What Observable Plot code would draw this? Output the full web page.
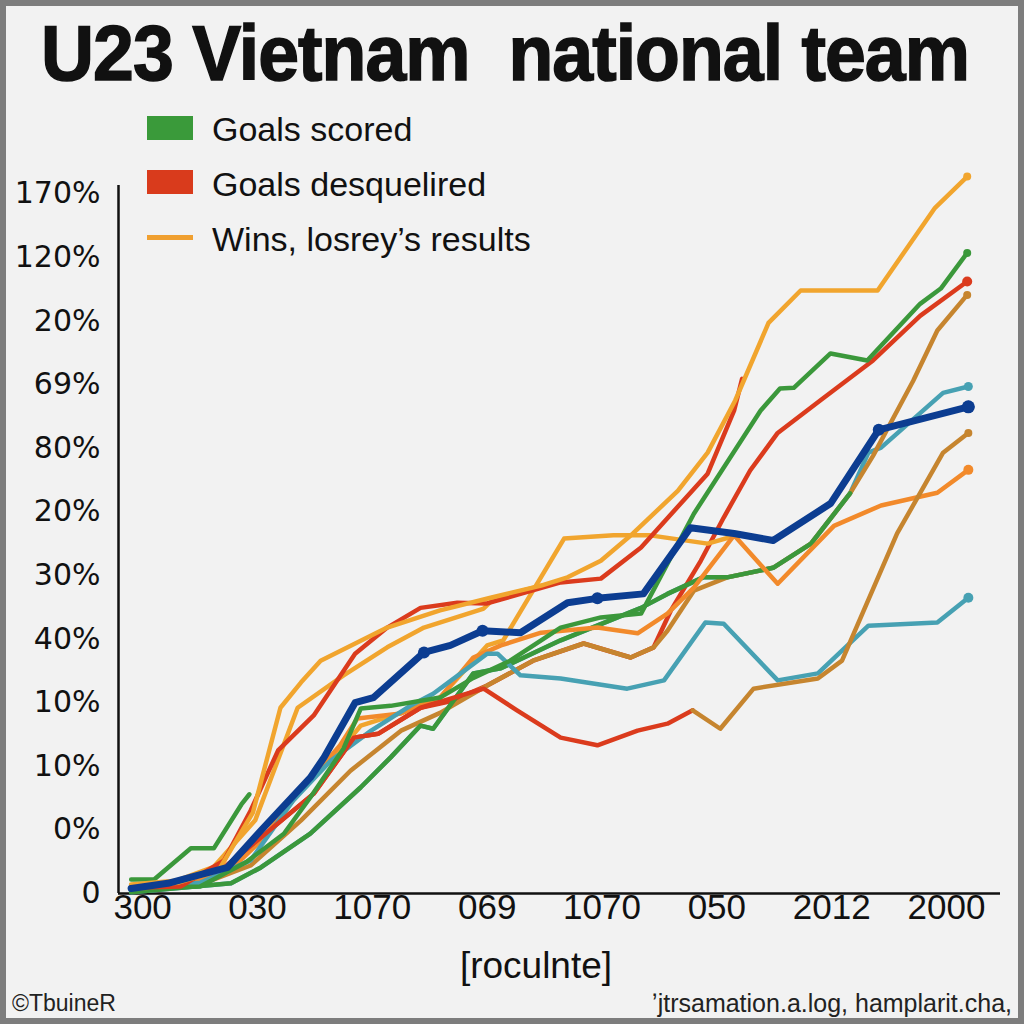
<!DOCTYPE html>
<html><head><meta charset="utf-8">
<script src="https://cdn.jsdelivr.net/npm/d3@7"></script>
<script src="https://cdn.jsdelivr.net/npm/@observablehq/plot@0.6"></script>
<style>
html,body{margin:0;padding:0;background:#f2f2f2;}
#page{position:relative;width:1024px;height:1024px;background:#f2f2f2;overflow:hidden;font-family:"Liberation Sans",Arial,sans-serif;color:#111;}
#frame{position:absolute;left:0;top:0;width:1024px;height:1024px;box-sizing:border-box;border:6px solid #7d7d7d;pointer-events:none;}
#title{position:absolute;left:41px;top:15px;font-size:77px;line-height:77px;font-weight:700;white-space:pre;transform-origin:0 0;letter-spacing:-1px;-webkit-text-stroke:1.5px #111;}
.lg{position:absolute;left:212px;font-size:34px;line-height:34px;white-space:pre;color:#111;}
.sw{position:absolute;left:147px;width:46px;}
#chart{position:absolute;left:0;top:160px;}
#xlabel{position:absolute;left:0;width:1072px;top:946px;text-align:center;font-size:37px;line-height:40px;}
#foot1{position:absolute;left:12px;top:990px;font-size:23px;line-height:26px;color:#222;}
#foot2{position:absolute;right:12px;top:990px;font-size:25px;line-height:26px;color:#222;white-space:pre;}
</style></head>
<body>
<div id="page">
  <div id="title">U23 Vietnam  national team</div>
  <div class="sw" style="top:116px;height:24px;background:#3a9a3a"></div>
  <div class="lg" style="top:112px">Goals scored</div>
  <div class="sw" style="top:170px;height:24px;background:#d93b1c"></div>
  <div class="lg" style="top:167px">Goals desquelired</div>
  <div class="sw" style="top:235px;height:5px;background:#f0a030"></div>
  <div class="lg" style="top:222px">Wins, losrey’s results</div>
  <div id="chart"></div>
  <div id="xlabel">[roculnte]</div>
  <div id="foot1">©TbuineR</div>
  <div id="foot2">ʼjtrsamation.a.log, hamplarit.cha,</div>
  <div id="frame"></div>
</div>
<script>
// Tick labels
const xLabels = ["300","030","1070","069","1070","050","2012","2000"];
const xTicks = [0,1,2,3,4,5,6,7];
const yLabels = ["0","0%","10%","10%","40%","30%","20%","80%","69%","20%","120%","170%"];
const yTicks = [0,10,20,30,40,50,60,70,80,90,100,110];
const xDomain = [-0.21, 7.47];
const yDomain = [0, 111.3];

// Series values [x, y]
const yellowA = [[-0.10,1.3],[0.31,1.7],[0.66,3.6],[0.96,12.7],[1.20,29.2],[1.38,33.2],[1.55,36.6],[2.13,41.8],[2.59,44.5],[3.03,46.5],[3.47,48.4],[3.70,49.7],[3.99,52.3],[4.27,56.6],[4.66,63.3],[4.92,69.3],[5.16,77.5],[5.45,89.7],[5.73,94.8],[6.40,94.8],[6.90,107.8],[7.18,112.7]];
const yellowB = [[-0.10,1.4],[0.29,2.0],[0.62,4.2],[0.98,11.5],[1.35,29.2],[1.75,34.3],[2.13,38.7],[2.45,41.8],[2.97,44.8],[3.06,46.4],[3.47,48.4]];
const yellowC = [[-0.10,1.1],[0.33,1.4],[0.72,3.3],[1.04,9.9],[1.38,16.2],[1.72,22.5],[1.90,26.4],[2.25,28.4],[2.59,30.8],[3.00,39.0],[3.14,39.8],[3.67,55.8],[4.10,56.3],[4.42,56.3],[4.92,55.0],[5.19,56.4]];
const orangeA = [[-0.10,0.8],[0.33,1.1],[0.74,3.3],[1.03,8.3],[1.38,16.2],[1.72,23.3],[1.87,27.5],[2.25,28.3],[2.59,30.8],[2.88,37.1],[3.12,39.0],[3.47,41.0],[3.96,41.8],[4.31,40.9],[4.57,44.0],[4.80,48.1],[5.15,56.3],[5.53,48.7],[6.02,57.8],[6.43,61.0],[6.92,63.0],[7.19,66.6]];
const redA = [[-0.10,0.9],[0.33,1.1],[0.71,5.2],[0.94,13.0],[1.18,22.5],[1.49,28.0],[1.85,37.7],[2.13,41.8],[2.42,44.9],[2.74,45.7],[3.00,45.6],[3.64,48.9],[3.99,49.5],[4.34,54.4],[4.92,66.0],[5.15,75.9],[5.22,80.9]];
const redB = [[-0.10,0.9],[0.16,1.3],[0.71,4.1],[1.03,8.8],[1.49,15.7],[1.84,24.5],[2.05,25.1],[2.42,29.2],[2.68,30.2],[3.00,32.7],[3.40,36.6],[3.84,39.3],[4.25,37.1],[4.45,38.7],[4.60,44.5],[4.86,52.3],[5.06,59.1],[5.29,66.5],[5.53,72.4],[5.90,77.5],[6.36,83.8],[6.77,90.8],[7.18,96.2]];
const redC = [[-0.10,0.9],[0.16,1.3],[0.71,4.1],[1.03,8.8],[1.49,15.7],[1.84,24.5],[2.05,25.1],[2.42,29.2],[2.97,32.2],[3.26,28.8],[3.64,24.5],[3.96,23.3],[4.31,25.6],[4.57,26.7],[4.79,28.8]];
const brownA = [[-0.10,0.8],[0.50,1.4],[0.94,4.4],[1.38,11.5],[1.81,19.3],[2.25,25.6],[2.59,28.4],[3.00,32.7],[3.40,36.6],[3.84,39.3],[4.25,37.1],[4.45,38.7],[4.57,41.3],[4.80,47.6],[5.09,49.7],[5.49,51.2],[5.82,55.0],[6.16,62.9],[6.36,68.8],[6.71,80.6],[6.92,88.5],[7.18,94.1]];
const brownB = [[4.79,28.8],[5.03,25.9],[5.32,32.2],[5.88,33.8],[6.09,36.6],[6.57,56.6],[6.97,69.3],[7.19,72.4]];
const greenA = [[-0.10,0.8],[0.50,1.1],[0.90,4.9],[1.23,9.4],[1.46,15.1],[1.75,22.8],[1.90,29.1],[2.16,29.5],[2.59,30.8],[2.88,33.9],[3.20,36.6],[3.64,41.8],[3.99,43.4],[4.34,44.0],[4.80,59.7],[5.38,75.9],[5.55,79.4],[5.67,79.5],[5.99,84.9],[6.31,83.8],[6.77,92.7],[6.95,95.1],[7.18,100.7]];
const greenB = [[-0.10,0.2],[0.77,1.6],[1.03,4.1],[1.46,9.4],[1.90,16.7],[2.16,21.4],[2.42,26.4],[2.53,25.9],[2.88,34.6],[3.12,35.4],[3.64,39.8],[4.34,44.9],[4.57,47.1],[4.88,49.7],[5.09,49.7],[5.49,51.2],[5.82,55.0],[6.16,62.9]];
const greenC = [[-0.10,2.2],[0.10,2.2],[0.42,7.1],[0.62,7.1],[0.86,14.0],[0.93,15.6]];
const tealA = [[-0.10,0.2],[0.77,1.6],[1.03,4.1],[1.46,9.4],[1.90,16.7],[2.16,21.4],[2.42,26.4],[2.53,25.9],[2.88,34.6],[3.12,35.4],[3.64,39.8],[4.34,44.9],[4.57,47.1],[4.88,49.7],[5.09,49.7],[5.49,51.2],[5.82,55.0],[6.16,62.9],[6.32,69.3],[6.43,70.1],[6.97,78.7],[7.19,79.7]];
const tealB = [[-0.10,0.8],[0.50,1.7],[0.94,5.2],[1.31,14.6],[1.64,20.9],[1.99,25.6],[2.33,29.5],[2.53,31.4],[2.77,34.6],[3.00,37.7],[3.09,37.7],[3.29,34.3],[3.64,33.8],[4.22,32.2],[4.54,33.5],[4.90,42.6],[5.06,42.4],[5.53,33.5],[5.88,34.6],[6.32,42.1],[6.92,42.6],[7.19,46.5]];
const blueA = [[-0.10,0.8],[0.22,1.6],[0.74,4.1],[1.03,9.9],[1.46,18.2],[1.58,21.4],[1.85,30.0],[2.01,30.8],[2.45,37.9],[2.68,39.0],[2.96,41.3],[3.29,41.0],[3.70,45.7],[3.96,46.4],[4.36,47.1],[4.77,57.5],[5.15,56.6],[5.49,55.5],[5.99,61.3],[6.41,72.9],[7.19,76.5]];
const blueDotIndex = [8,10,13,19,20];

// Styling table (draw order bottom -> top)
const C = {yellow:"#f1a52e", orange:"#f28a2b", red:"#db3b1d", green:"#3b983b", blue:"#0c3d91", teal:"#47a1b3", brown:"#c6852f"};
const series = [
  {pts: tealA, color: C.teal, w: 4.5, end: 4.5},
  {pts: redB, color: C.red, w: 4.5, end: 5},
  {pts: brownA, color: C.brown, w: 4.5, end: 4},
  {pts: greenB, color: C.green, w: 4.5, end: 0},
  {pts: greenC, color: C.green, w: 4.5, end: 0},
  {pts: yellowB, color: C.yellow, w: 4.5, end: 0},
  {pts: yellowC, color: C.yellow, w: 4.5, end: 0},
  {pts: orangeA, color: C.orange, w: 4.5, end: 5},
  {pts: tealB, color: C.teal, w: 4.5, end: 5},
  {pts: redC, color: C.red, w: 4.5, end: 0},
  {pts: brownB, color: C.brown, w: 4.5, end: 4},
  {pts: greenA, color: C.green, w: 4.5, end: 4},
  {pts: redA, color: C.red, w: 4.5, end: 0},
  {pts: yellowA, color: C.yellow, w: 4.5, end: 4},
  {pts: blueA, color: C.blue, w: 7, end: 6.5}
];

const marks = [
  Plot.ruleX([xDomain[0]], {stroke: "#111", strokeWidth: 2.5}),
  Plot.ruleY([0], {stroke: "#111", strokeWidth: 2.5})
];
for (const s of series) {
  marks.push(Plot.line(s.pts, {x: d => d[0], y: d => d[1], stroke: s.color, strokeWidth: s.w, strokeLinejoin: "round", strokeLinecap: "round"}));
}
const ends = series.filter(s => s.end > 0).map(s => ({p: s.pts[s.pts.length - 1], color: s.color, r: s.end}));
marks.push(Plot.dot(ends, {x: d => d.p[0], y: d => d.p[1], fill: d => d.color, r: d => d.r, stroke: "none"}));
marks.push(Plot.dot(blueDotIndex.map(i => blueA[i]), {x: d => d[0], y: d => d[1], fill: C.blue, r: 6, stroke: "none"}));
marks.push(Plot.text(yTicks, {y: d => d, text: (d, i) => yLabels[i], frameAnchor: "left", dx: -18, textAnchor: "end", fontSize: 30, fontFamily: "DejaVu Sans", fill: "#111"}));
marks.push(Plot.text(xTicks, {x: d => d, text: (d, i) => xLabels[i], frameAnchor: "bottom", dy: 25, fontSize: 35, fontFamily: "Liberation Sans", fill: "#111"}));

const chart = Plot.plot({
  width: 1024, height: 800,
  marginLeft: 118, marginRight: 24, marginTop: 25, marginBottom: 67,
  x: {domain: xDomain, axis: null},
  y: {domain: yDomain, axis: null},
  r: {type: "identity"},
  fill: {type: "identity"},
  style: {background: "transparent", overflow: "visible"},
  marks
});
document.getElementById("chart").appendChild(chart);

const t = document.getElementById("title");
const w = t.getBoundingClientRect().width;
t.style.transform = `scaleX(${928 / w})`;
</script>
</body></html>
